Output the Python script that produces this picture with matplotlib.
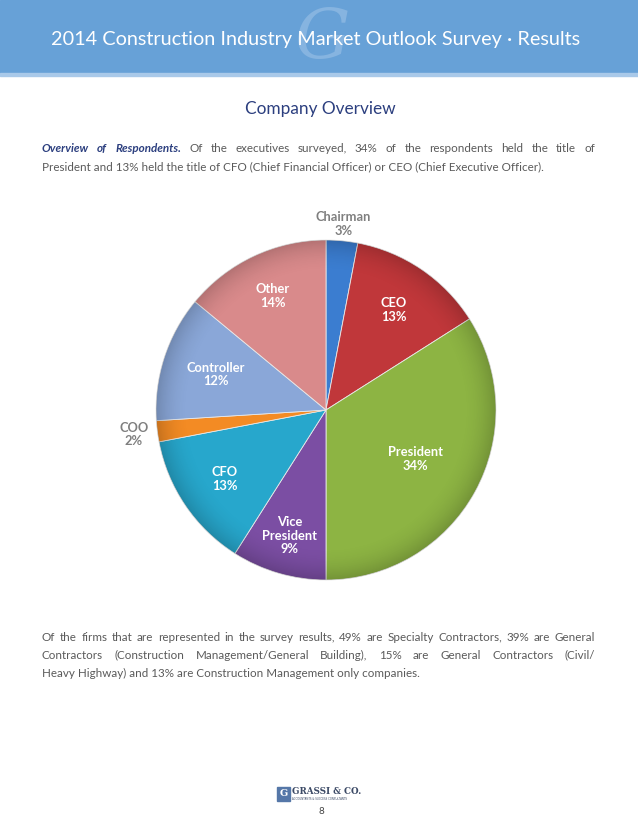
import matplotlib
matplotlib.use('Agg')
import matplotlib.pyplot as plt
import numpy as np
from matplotlib.patches import Rectangle, Circle
from matplotlib.font_manager import FontProperties
from matplotlib.backends.backend_agg import get_hinting_flag

W, H = 638, 826

# pie data
labels = ['Chairman', 'CEO', 'President', 'Vice\nPresident', 'CFO', 'COO', 'Controller', 'Other']
shares = [3, 13, 34, 9, 13, 2, 12, 14]
colors = ['#3b7dd0', '#c0373a', '#8db443', '#7b4ea3', '#27a7cc', '#f38b24', '#8aa7d8', '#d98a8b']
outside = ['Chairman', 'COO']
label_dist = [1.1, 0.71, 0.6, 0.77, 0.72, 1.14, 0.68, 0.74]

# page text
title = '2014 Construction Industry Market Outlook Survey \u00b7 Results'
heading = 'Company Overview'
lead = 'Overview of Respondents.'
para1 = ['Of the executives surveyed, 34% of the respondents held the title of',
         'President and 13% held the title of CFO (Chief Financial Officer) or CEO (Chief Executive Officer).']
para2 = ['Of the firms that are represented in the survey results, 49% are Specialty Contractors, 39% are General',
         'Contractors (Construction Management/General Building), 15% are General Contractors (Civil/',
         'Heavy Highway) and 13% are Construction Management only companies.']

body = dict(family='Lato', fontsize=8.4, color='#5a5a5a')
leadst = dict(family='Lato', fontsize=8.4, color='#2c3f7f', weight='bold', style='italic')

fig = plt.figure(figsize=(W / 100, H / 100), dpi=100)
bg = fig.add_axes([0, 0, 1, 1])
bg.set_xlim(0, W)
bg.set_ylim(H, 0)
bg.axis('off')

# header bar
bg.add_patch(Rectangle((0, 0), W, 73, color='#67a1d7', zorder=0))
bg.add_patch(Rectangle((0, 73), W, 3, color='#a9c9e9', zorder=0))
bg.text(322, 40, 'G', family='DejaVu Serif', style='italic', fontsize=50,
        color='#86b4e0', ha='center', va='center', zorder=1)
bg.text(316, 40, title, family='Lato', fontsize=14.3, color='white',
        ha='center', va='center', zorder=2)

bg.text(320, 109, heading, family='Lato', fontsize=12.4, color='#2c3f7f',
        ha='center', va='center')

fig.canvas.draw()
rend = fig.canvas.get_renderer()


def width(s, st):
    t = bg.text(0, 0, s, **st)
    w = t.get_window_extent(rend).width
    t.remove()
    return w


def base_shift(s, st):
    # pixel rounding of the glyph bitmap differs per word; work it out so
    # all words of a line sit on the same baseline row
    try:
        prop = FontProperties(family=st['family'], size=st['fontsize'],
                              weight=st.get('weight', 'normal'), style=st.get('style', 'normal'))
        font = rend._prepare_font(prop)
        font.set_text(s, 0, flags=get_hinting_flag())
        w, h = font.get_width_height()
        d = font.get_descent()
        return round(d / 64) - h // 64 + int(np.floor((h - d) / 64))
    except Exception:
        return 0


def line(y, words, x0=42, x1=595):
    # words: list of (word, style), spread out to fill x0..x1
    ws = [width(w, st) for w, st in words]
    gap = (x1 - x0 - sum(ws)) / (len(words) - 1)
    x = x0
    for (w, st), wd in zip(words, ws):
        bg.text(x, y - base_shift(w, st), w, va='baseline', ha='left', **st)
        x += wd + gap


l1 = [(w, leadst) for w in lead.split()] + [(w, body) for w in para1[0].split()]
line(152, l1)
bg.text(42, 170, para1[1], va='baseline', ha='left', **body)

line(641, [(w, body) for w in para2[0].split()])
line(659, [(w, body) for w in para2[1].split()])
bg.text(42, 677, para2[2], va='baseline', ha='left', **body)

# footer logo
bg.add_patch(Rectangle((277, 787), 13, 14, color='#5577a8'))
bg.text(283.5, 794, 'G', family='DejaVu Serif', fontsize=7, color='white',
        ha='center', va='center', weight='bold')
bg.text(292, 791, 'GRASSI & CO.', family='DejaVu Serif', fontsize=6.3,
        color='#3c4a66', weight='bold', ha='left', va='center')
bg.text(292, 799.5, 'ACCOUNTANTS & SUCCESS CONSULTANTS', family='DejaVu Sans', fontsize=1.9,
        color='#3c4a66', ha='left', va='center')
bg.text(321, 812, '8', family='Lato', fontsize=7, color='#444444', ha='center', va='center')

# pie
cx, cy, r = 326, 410, 170
pax = fig.add_axes([(cx - r) / W, 1 - (cy + r) / H, 2 * r / W, 2 * r / H])
wedges, _ = pax.pie(shares, colors=colors, startangle=90, counterclock=False,
                    wedgeprops=dict(edgecolor='#e8e8e8', linewidth=0.6))

# soft darkening toward the rim, like the bevelled original
g = np.linspace(-1, 1, 400)
gx, gy = np.meshgrid(g, g)
rr = np.hypot(gx, gy)
shade = np.zeros((400, 400, 4))
shade[..., 3] = np.clip((rr - 0.8) / 0.2, 0, 1) ** 2 * 0.18
im = pax.imshow(shade, extent=(-1, 1, -1, 1), zorder=3, interpolation='bilinear')
im.set_clip_path(Circle((0, 0), 1, transform=pax.transData))

pax.set_xlim(-1, 1)
pax.set_ylim(-1, 1)
pax.set_aspect('equal')
pax.axis('off')

for wdg, lab, val, d in zip(wedges, labels, shares, label_dist):
    ang = np.deg2rad((wdg.theta1 + wdg.theta2) / 2)
    x, y = d * np.cos(ang), d * np.sin(ang)
    col = '#7f7f7f' if lab in outside else 'white'
    pax.text(x, y, f'{lab}\n{val}%', ha='center', va='center', family='Lato',
             fontsize=9.3, color=col, weight='bold', linespacing=1.15, zorder=4)

fig.savefig('out.png', dpi=100)
